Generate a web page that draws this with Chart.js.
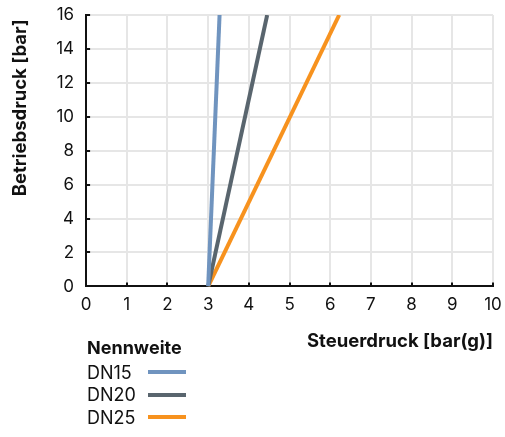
<!DOCTYPE html>
<html>
<head>
<meta charset="utf-8">
<script src="https://cdn.jsdelivr.net/npm/chart.js@4"></script>
<style>
  body { margin: 0; background: #fff; font-family: Inter, "Noto Sans", sans-serif; }
  #wrap { position: relative; width: 505px; height: 437px; }
  #legend { position: absolute; left: 87px; top: 335px; color: #111; font-size: 18px; }
  #legend .title { font-weight: bold; height: 26px; line-height: 26px; }
  #legend .item { display: flex; align-items: center; height: 22.5px; }
  #legend .item span { width: 61px; }
  #legend .item i { display: inline-block; width: 38px; height: 4px; }
</style>
</head>
<body>
<div id="wrap">
  <canvas id="chart" width="505" height="437"></canvas>
  <div id="legend"></div>
</div>
<script>
// Nennweite lines: Steuerdruck (x) vs Betriebsdruck (y)
const seriesNames = ['DN15', 'DN20', 'DN25'];
const seriesColors = ['#7094bf', '#59656e', '#f7921e'];
const startPoint = { x: 3.0, y: 0 };
const endX = [3.28, 4.45, 6.22];
const endY = 16;

const datasets = seriesNames.map((name, i) => ({
    label: name,
    data: [startPoint, { x: endX[i], y: endY }],
    borderColor: seriesColors[i],
    backgroundColor: seriesColors[i],
    borderWidth: 4,
    pointRadius: 0,
    showLine: true
}));

const font = { family: 'Inter', size: 17 };
const titleFont = { family: 'Inter', size: 18.5, weight: 'bold' };

new Chart(document.getElementById('chart'), {
    type: 'scatter',
    data: { datasets: datasets },
    options: {
        responsive: false,
        animation: false,
        layout: { padding: { left: 5, right: 12, top: 15, bottom: 80 } },
        plugins: {
            legend: { display: false },
            tooltip: { enabled: false }
        },
        scales: {
            x: {
                min: 0, max: 10,
                ticks: { stepSize: 1, color: '#111', font: font, padding: 12, maxRotation: 0 },
                grid: { color: '#e6e6e6', lineWidth: 2, tickLength: -4, tickColor: '#111', tickWidth: 2 },
                border: { color: '#111', width: 2 },
                title: {
                    display: true, text: 'Steuerdruck [bar(g)]', align: 'end',
                    color: '#111', font: titleFont, padding: { top: 4 }
                },
                // label overflow is handled by layout padding
                afterFit: s => { s.paddingLeft = 0; s.paddingRight = 0; }
            },
            y: {
                min: 0, max: 16,
                ticks: {
                    stepSize: 1, color: '#111', font: font, padding: 16,
                    callback: v => (v % 2 === 0 ? v : '')
                },
                grid: {
                    color: '#e6e6e6', lineWidth: 2, tickLength: -4, tickWidth: 2,
                    tickColor: ctx => (ctx.tick && ctx.tick.value % 2 === 0 ? '#111' : 'rgba(0,0,0,0)')
                },
                border: { color: '#111', width: 2 },
                title: {
                    display: true, text: 'Betriebsdruck [bar] ', align: 'end',
                    color: '#111', font: titleFont, padding: { bottom: 9 }
                },
                afterFit: s => { s.paddingTop = 0; s.paddingBottom = 0; }
            }
        }
    }
});

// legend below the chart: text first, line sample after it
const legend = document.getElementById('legend');
legend.innerHTML = '<div class="title">Nennweite</div>' + seriesNames.map((n, i) =>
    '<div class="item"><span>' + n + '</span><i style="background:' + seriesColors[i] + '"></i></div>').join('');
</script>
</body>
</html>
